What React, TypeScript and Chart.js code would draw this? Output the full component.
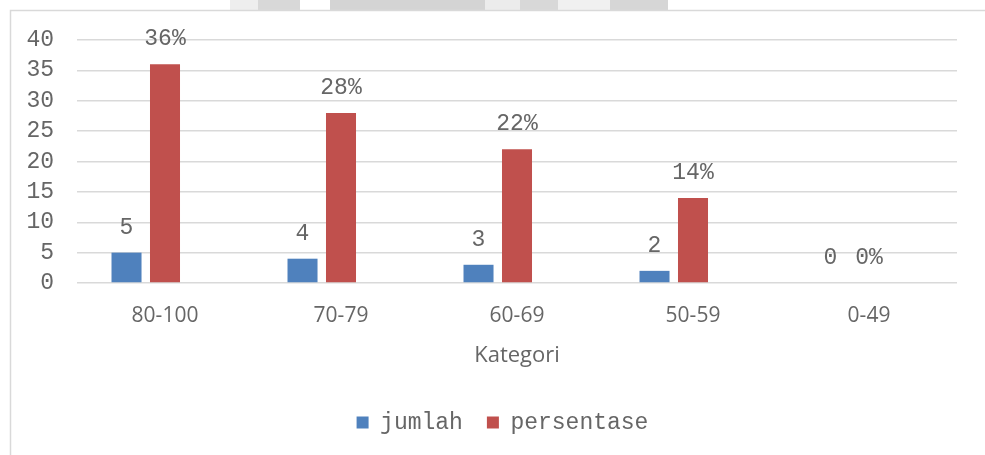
import React, { useEffect, useRef } from "react";
import { Chart, registerables } from "chart.js";

Chart.register(...registerables);

const categories = ["80-100", "70-79", "60-69", "50-59", "0-49"];
const jumlah = [5, 4, 3, 2, 0];
const persentase = [36, 28, 22, 14, 0];
const yMin = 0;
const yMax = 40;
const yStep = 5;

const MONO = '"Liberation Mono", "Courier New", monospace';
const SANS = '"Open Sans", "Noto Sans", sans-serif';
const TEXT = "#666666";

const frameAndLabels = {
  id: "frameAndLabels",
  afterLayout(chart: any) {
    const lg = chart.legend;
    if (lg) {
      lg.left += 24;
      lg.right += 24;
    }
  },
  beforeDraw(chart: any) {
    const { ctx } = chart;
    ctx.save();
    ctx.fillStyle = "#ffffff";
    ctx.fillRect(0, 0, chart.width, chart.height);
    // faint background strip above the frame
    const strips: [number, number, string][] = [
      [230, 258, "#eeeeee"],
      [258, 300, "#d8d8d8"],
      [330, 485, "#d4d4d4"],
      [485, 520, "#ececec"],
      [520, 558, "#d8d8d8"],
      [558, 610, "#f0f0f0"],
      [610, 668, "#d6d6d6"],
    ];
    strips.forEach(([a, b, c]) => {
      ctx.fillStyle = c;
      ctx.fillRect(a, 0, b - a, 10);
    });
    ctx.strokeStyle = "#d9d9d9";
    ctx.lineWidth = 1.5;
    ctx.strokeRect(10.5, 10.5, chart.width + 20, chart.height + 20);
    ctx.restore();
  },
  afterDatasetsDraw(chart: any) {
    const { ctx } = chart;
    ctx.save();
    ctx.font = `23px ${MONO}`;
    ctx.fillStyle = TEXT;
    ctx.textAlign = "center";
    ctx.textBaseline = "alphabetic";
    const m0 = chart.getDatasetMeta(0);
    m0.data.forEach((bar: any, i: number) => {
      ctx.fillText(String(jumlah[i]), bar.x, bar.y - 19);
    });
    const m1 = chart.getDatasetMeta(1);
    m1.data.forEach((bar: any, i: number) => {
      ctx.fillText(`${persentase[i]}%`, bar.x, bar.y - 19);
    });
    ctx.restore();
  },
};

export default function App() {
  const ref = useRef<HTMLCanvasElement | null>(null);
  useEffect(() => {
    if (!ref.current) return;
    const chart = new Chart(ref.current, {
      type: "bar",
      data: {
        labels: categories,
        datasets: [
          { label: "jumlah", data: jumlah, backgroundColor: "#4F81BD" },
          { label: "persentase", data: persentase, backgroundColor: "#C0504D" },
          { label: "", data: categories.map(() => null), backgroundColor: "transparent" },
        ],
      },
      options: {
        animation: false,
        responsive: true,
        maintainAspectRatio: false,
        categoryPercentage: 0.656,
        barPercentage: 0.78,
        layout: { padding: { top: 40, right: 28, left: 0, bottom: 11 } },
        plugins: {
          tooltip: { enabled: false },
          legend: {
            position: "bottom",
            labels: {
              boxWidth: 12,
              boxHeight: 12,
              padding: 24,
              color: TEXT,
              font: { family: MONO, size: 23 },
              filter: (item: any) => item.text !== "",
            },
          },
        },
        scales: {
          x: {
            grid: { display: false },
            border: { display: false },
            ticks: { color: TEXT, font: { family: SANS, size: 21 }, padding: 12 },
            title: {
              display: true,
              text: "Kategori",
              color: TEXT,
              font: { family: SANS, size: 22 },
              padding: { top: 0, bottom: 18 },
            },
            afterFit: (s: any) => {
              s.height = 104;
            },
          },
          y: {
            min: yMin,
            max: yMax,
            grid: { color: "#d9d9d9", lineWidth: 1.5, drawTicks: false },
            border: { display: false },
            ticks: {
              stepSize: yStep,
              color: TEXT,
              font: { family: MONO, size: 23, lineHeight: 1 },
              padding: 23,
            },
            afterFit: (s: any) => {
              s.width = 77;
            },
          },
        },
      },
      plugins: [frameAndLabels],
    });
    return () => chart.destroy();
  }, []);
  return (
    <div style={{ position: "absolute", left: 0, top: 0, width: 985, height: 455 }}>
      <canvas ref={ref} />
    </div>
  );
}
